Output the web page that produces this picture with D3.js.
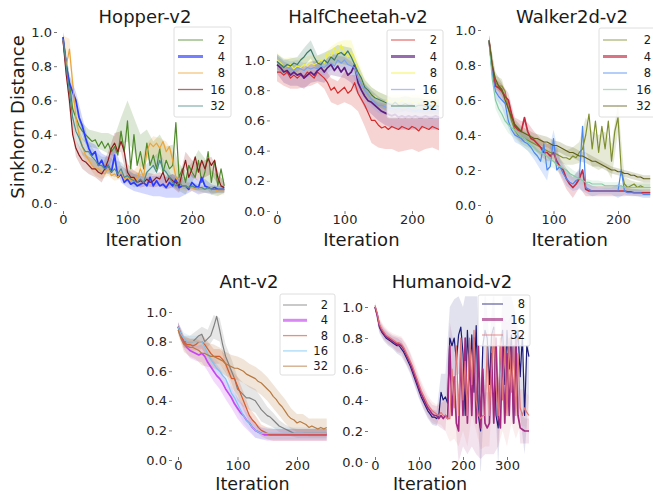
<!DOCTYPE html>
<html>
<head>
<meta charset="utf-8">
<script src="https://cdn.jsdelivr.net/npm/d3@7"></script>
<style>
  body { margin: 0; background: #fff; }
  svg { font-family: "DejaVu Sans", sans-serif; }
</style>
</head>
<body>
<svg id="chart" width="653" height="494"></svg>
<script>
// mean curves are sampled every 5 iterations, the shaded spread every 10
const STEP = 5;
const BAND_STEP = 10;

const groups = ["2", "4", "8", "16", "32"];
const humanoidGroups = ["8", "16", "32"];
const yTickValues = [0, 0.2, 0.4, 0.6, 0.8, 1.0];

// ---- Hopper-v2 ----
const hopper2 = [.97,.82,.7,.55,.5,.45,.42,.4,.38,.36, .37,.33,.36,.32,.35,.3,.33,.28,.42,.3, .48,.2,.4,.22,.3,.2,.35,.22,.28,.2, .32,.18,.25,.2,.22,.47,.15,.2,.12,.22, .18,.15,.25,.12,.18,.3,.12,.25,.1,.2, .1];
const hopper4 = [.97,.8,.7,.65,.6,.5,.45,.38,.32,.28, .3,.22,.25,.2,.22,.18,.28,.15,.17,.12, .14,.11,.12,.1,.11,.12,.1,.15,.1,.13, .1,.11,.09,.12,.1,.14,.09,.1,.1,.08, .12,.1,.09,.15,.1,.09,.08,.09,.08,.08, .08];
const hopper8 = [.95,.8,.9,.7,.5,.4,.33,.28,.25,.22, .2,.2,.18,.17,.2,.16,.17,.15,.18,.14, .15,.13,.15,.14,.2,.15,.3,.35,.33,.35, .32,.36,.3,.33,.25,.15,.12,.1,.1,.09, .09,.08,.08,.08,.08,.08,.08,.08,.07,.07, .07];
const hopper16 = [.95,.75,.6,.4,.32,.28,.25,.24,.22,.2, .2,.18,.17,.2,.25,.32,.35,.3,.36,.3, .18,.15,.15,.12,.13,.12,.14,.12,.13,.15, .14,.18,.12,.15,.13,.12,.1,.18,.25,.15, .2,.27,.18,.25,.2,.26,.22,.25,.15,.1, .09];
const hopper32 = [.96,.8,.65,.5,.42,.38,.33,.3,.3,.27, .25,.22,.22,.2,.22,.18,.2,.17,.2,.15, .16,.14,.13,.12,.14,.12,.18,.2,.22,.18, .25,.2,.18,.15,.12,.1,.12,.1,.1,.09, .1,.09,.09,.09,.08,.09,.08,.08,.08,.08, .08];
const hopper2S = [.03,.05,.05,.05,.05,.05,.05,.06,.06,.08, .12,.1,.1,.08,.08,.08,.08,.12,.08,.07, .06,.06,.08,.07,.06,.04];
const hopper4S = [.03,.05,.05,.05,.04,.04,.04,.05,.05,.05, .05,.05,.05,.05,.06,.06,.06,.07,.06,.05, .05,.04,.04,.03,.02,.02];
const hopper8S = [.03,.06,.06,.05,.04,.04,.04,.04,.04,.04, .04,.04,.04,.05,.06,.06,.06,.05,.04,.03, .02,.02,.02,.02,.02,.02];
const hopper16S = [.03,.06,.05,.05,.05,.05,.05,.05,.06,.06, .05,.04,.04,.04,.04,.04,.04,.04,.04,.05, .05,.05,.05,.05,.04,.02];
const hopper32S = [.03,.05,.05,.05,.05,.05,.05,.05,.05,.04, .04,.04,.04,.05,.05,.05,.04,.03,.03,.02, .02,.02,.02,.02,.02,.02];
const hopperColors = ["#4f8a2b", "#2a3cff", "#eba53a", "#8c1c1c", "#4e8c8c"];

// ---- HalfCheetah-v2 ----
const hc2 = [.92,.92,.9,.92,.88,.9,.88,.9,.89,.92, .9,.88,.92,.9,.88,.85,.8,.82,.78,.8, .82,.78,.8,.85,.78,.74,.7,.65,.6,.6, .57,.55,.56,.54,.56,.55,.54,.56,.55,.54, .56,.55,.53,.56,.55,.54,.56,.55,.54];
const hc4 = [.97,.95,.92,.93,.9,.92,.9,.91,.88,.9, .92,.9,.93,.95,.92,.95,.97,.93,.96,.92, .95,.9,.92,.97,.85,.8,.76,.73,.72,.7, .68,.66,.65,.64,.63,.64,.62,.63,.62,.63, .62,.63,.62,.62,.63,.62,.62,.63,.62];
const hc8 = [1.0,.98,.96,.95,.97,.94,.96,.95,.97,.96, .98,.97,.98,1.0,.98,1.05,1.02,1.08,1.04,1.1, 1.05,1.02,1.05,1.0,.93,.88,.82,.8,.77,.76, .74,.73,.72,.74,.72,.73,.72,.74,.72,.73, .72,.71,.72,.73,.72,.71,.72,.72,.71];
const hc16 = [.99,.97,.96,.95,.94,.93,.95,.94,.93,.95, .94,.95,.94,.96,.95,.97,.98,.96,1.0,.98, 1.0,.97,.96,.95,.88,.84,.8,.77,.74,.72, .7,.7,.69,.68,.68,.67,.68,.67,.67,.68, .67,.66,.67,.66,.67,.66,.66,.67,.66];
const hc32 = [.99,.97,.95,.97,.96,.98,.97,1.0,1.02,1.05, 1.07,1.02,.98,.97,1.0,.98,1.02,1.0,1.04,1.05, 1.03,1.06,1.02,.97,.92,.88,.82,.8,.77,.75, .74,.73,.72,.71,.7,.72,.7,.7,.71,.7, .7,.69,.7,.7,.69,.7,.69,.7,.69];
const hc2S = [.06,.07,.07,.07,.07,.07,.07,.07,.08,.08, .1,.1,.12,.14,.15,.15,.15,.15,.15,.15, .15,.14,.14,.14,.14];
const hc4S = [.06,.07,.07,.07,.07,.07,.07,.07,.07,.07, .07,.07,.08,.08,.08,.08,.08,.08,.08,.08, .08,.08,.08,.08,.08];
const hc8S = [.05,.05,.05,.05,.05,.05,.05,.06,.07,.08, .08,.08,.07,.06,.05,.05,.05,.05,.05,.05, .05,.05,.05,.05,.05];
const hc16S = [.05,.05,.05,.05,.05,.05,.05,.05,.05,.05, .05,.05,.05,.05,.05,.05,.05,.05,.05,.05, .05,.05,.05,.05,.05];
const hc32S = [.05,.05,.05,.05,.06,.06,.05,.05,.05,.06, .06,.06,.05,.05,.05,.05,.05,.05,.05,.05, .05,.05,.05,.05,.05];
const hcColors = ["#d62a2a", "#5e1d82", "#f2f23a", "#7aa2ee", "#3c7a66"];

// ---- Walker2d-v2 ----
const wk2 = [.94,.8,.7,.68,.68,.65,.55,.48,.43,.4, .39,.38,.37,.36,.35,.34,.33,.32,.31,.3, .3,.29,.28,.27,.27,.26,.28,.27,.3,.32, .4,.52,.32,.48,.3,.45,.32,.48,.25,.42, .5,.2,.12,.1,.11,.12,.1,.11,.1,.1, .1];
const wk4 = [.94,.78,.68,.67,.65,.62,.6,.52,.45,.43, .42,.5,.42,.38,.37,.35,.33,.3,.3,.28, .3,.25,.22,.2,.15,.12,.1,.12,.15,.2, .09,.08,.08,.08,.08,.08,.08,.08,.08,.08, .08,.08,.08,.075,.075,.07,.07,.07,.07,.07, .07];
const wk8 = [.94,.75,.65,.62,.6,.58,.48,.43,.4,.39, .38,.36,.35,.33,.3,.28,.25,.35,.2,.22, .38,.2,.22,.18,.15,.13,.12,.14,.15,.45, .1,.09,.08,.08,.08,.08,.08,.08,.08,.08, .08,.2,.08,.07,.07,.07,.07,.07,.06,.06, .06];
const wk16 = [.94,.72,.6,.55,.52,.48,.46,.44,.43,.41, .39,.38,.36,.34,.33,.31,.3,.29,.28,.26, .25,.23,.22,.21,.2,.18,.17,.16,.15,.14, .13,.13,.12,.12,.12,.12,.11,.11,.11,.11, .11,.11,.1,.1,.1,.1,.1,.1,.1,.1, .1];
const wk32 = [.94,.8,.72,.68,.66,.6,.55,.5,.46,.44, .42,.41,.4,.39,.38,.38,.37,.36,.36,.35, .34,.34,.33,.32,.31,.3,.3,.29,.28,.28, .27,.26,.25,.25,.24,.23,.22,.21,.2,.2, .19,.19,.18,.18,.17,.17,.16,.16,.15,.15, .15];
const wk2S = [.03,.04,.04,.04,.04,.04,.04,.04,.04,.04, .04,.04,.04,.05,.06,.1,.1,.1,.1,.1, .08,.04,.03,.03,.03,.03];
const wk4S = [.03,.04,.04,.04,.05,.06,.05,.05,.05,.05, .05,.05,.06,.06,.05,.04,.03,.03,.03,.03, .03,.03,.02,.02,.02,.02];
const wk8S = [.03,.04,.04,.04,.04,.04,.04,.04,.05,.06, .05,.04,.04,.04,.06,.03,.03,.02,.02,.02, .04,.02,.02,.02,.02,.02];
const wk16S = [.03,.05,.05,.05,.05,.05,.05,.05,.05,.05, .04,.04,.03,.03,.03,.02,.02,.02,.02,.02, .02,.02,.02,.02,.02,.02];
const wk32S = [.03,.04,.04,.03,.03,.03,.03,.03,.03,.03, .03,.03,.03,.03,.03,.03,.03,.02,.02,.02, .02,.02,.02,.02,.02,.02];
const walkerColors = ["#7f8f30", "#c52a40", "#4d88f0", "#85cca5", "#5f5f18"];

// ---- Ant-v2 ----
const ant2 = [.9,.85,.8,.8,.8,.8,.82,.84,.85,.8, .82,.84,.9,.97,.88,.78,.7,.65,.6,.55, .48,.46,.44,.42,.42,.41,.4,.37,.34,.32, .3,.29,.27,.25,.23,.22,.21,.2,.19,.18, .18,.18,.18,.18,.18,.18,.18,.18,.18,.18, .18];
const ant4 = [.9,.84,.79,.76,.74,.73,.72,.71,.72,.7, .66,.63,.6,.57,.55,.52,.48,.45,.42,.38, .35,.32,.3,.27,.25,.22,.2,.19,.18,.17, .17,.17,.17,.17,.17,.17,.17,.17,.17,.17, .17,.17,.17,.17,.17,.17,.17,.17,.17,.17, .17];
const ant8 = [.9,.85,.8,.78,.78,.77,.78,.8,.8,.78, .75,.72,.7,.7,.7,.68,.65,.6,.55,.55, .5,.45,.4,.35,.3,.27,.25,.22,.2,.19, .18,.17,.17,.17,.17,.17,.17,.17,.17,.17, .17,.17,.17,.17,.17,.17,.17,.17,.17,.17, .17];
const ant16 = [.9,.85,.82,.8,.8,.8,.8,.8,.8,.76, .72,.68,.65,.62,.6,.57,.55,.5,.45,.42, .38,.34,.3,.27,.25,.22,.2,.19,.18,.18, .18,.18,.18,.18,.18,.18,.18,.18,.18,.18, .18,.18,.18,.18,.18,.18,.18,.18,.18,.18, .18];
const ant32 = [.88,.82,.78,.77,.76,.76,.75,.74,.72,.72, .71,.7,.7,.69,.68,.67,.65,.64,.63,.62, .62,.61,.6,.58,.57,.56,.55,.53,.52,.5, .48,.46,.43,.41,.38,.36,.33,.3,.28,.27, .25,.26,.25,.24,.22,.23,.22,.21,.22,.21, .22];
const ant2S = [.03,.04,.04,.05,.05,.06,.08,.08,.08,.08, .08,.08,.08,.08,.08,.06,.05,.04,.03,.03, .03,.03,.03,.03,.03,.03];
const ant4S = [.03,.04,.05,.05,.06,.06,.07,.07,.07,.07, .07,.07,.06,.05,.04,.04,.04,.04,.04,.04, .04,.04,.04,.04,.04,.04];
const ant8S = [.03,.04,.04,.04,.05,.05,.05,.05,.06,.06, .06,.06,.05,.05,.04,.04,.04,.04,.04,.04, .04,.04,.04,.04,.04,.04];
const ant16S = [.03,.04,.04,.04,.04,.05,.05,.05,.05,.05, .05,.05,.05,.05,.04,.04,.04,.04,.04,.04, .04,.04,.04,.04,.04,.04];
const ant32S = [.03,.05,.06,.07,.08,.08,.08,.08,.08,.08, .08,.08,.08,.08,.08,.08,.08,.08,.08,.07, .06,.06,.06,.06,.06,.06];
const antColors = ["#808080", "#c548f0", "#d65a2a", "#7cc4f2", "#b87a40"];

// ---- Humanoid-v2 ----
const hu8 = [1.0,.95,.87,.84,.82,.8,.79,.78,.77,.76, .75,.75,.73,.71,.68,.65,.62,.58,.54,.5, .46,.42,.39,.36,.33,.31,.29,.29,.28,.3, .45,.4,.42,.38,.8,.75,.8,.65,.82,.87, .7,.3,.85,.55,.82,.45,.88,.3,.2,.75, .85,.8,.5,.82,.87,.3,.22,.75,.85,.5, .85,.6,.82,.25,.7,.85,.55,.82,.3,.75, .68];
const hu16 = [1.0,.95,.88,.85,.83,.81,.8,.79,.78,.77, .76,.76,.75,.73,.7,.67,.64,.6,.56,.52, .48,.44,.41,.38,.35,.33,.31,.3,.3,.28, .3,.28,.3,.28,.75,.3,.55,.25,.2,.7, .3,.8,.25,.7,.3,.8,.25,.75,.22,.6, .25,.22,.25,.7,.25,.8,.3,.22,.75,.25, .7,.3,.75,.25,.8,.3,.22,.21,.2,.2, .2];
const hu32 = [1.01,.96,.89,.86,.84,.82,.81,.8,.79,.78, .77,.77,.76,.74,.71,.68,.65,.62,.58,.54, .5,.46,.43,.4,.37,.35,.33,.32,.31,.3, .32,.3,.3,.28,.28,.6,.35,.75,.3,.8, .4,.65,.3,.8,.5,.85,.4,.3,.28,.3, .3,.75,.3,.6,.85,.5,.3,.8,.4,.75, .3,.8,.45,.75,.3,.7,.35,.3,.35,.32, .3];
const hu8S = [.02,.04,.04,.04,.04,.05,.05,.05,.05,.05, .05,.05,.05,.05,.05,.12,.15,.2,.25,.25, .3,.3,.3,.3,.3,.3,.28,.28,.25,.25, .25,.25,.25,.25,.25,.25];
const hu16S = [.02,.04,.04,.04,.04,.05,.05,.06,.06,.06, .06,.06,.06,.06,.06,.08,.1,.15,.2,.2, .2,.2,.2,.2,.2,.2,.2,.2,.2,.2, .2,.2,.15,.1,.08,.08];
const hu32S = [.02,.04,.04,.04,.04,.05,.05,.06,.06,.06, .06,.06,.06,.06,.06,.08,.1,.15,.2,.2, .2,.2,.2,.2,.2,.2,.2,.2,.2,.2, .2,.2,.15,.12,.12,.12];
const humanoidColors = ["#1c1c78", "#a2297f", "#e07878"];

// layout of each subplot (pixel anchors)
const panels = [
  { title: "Hopper-v2", labels: groups, colors: hopperColors,
    means: [hopper2, hopper4, hopper8, hopper16, hopper32],
    spreads: [hopper2S, hopper4S, hopper8S, hopper16S, hopper32S],
    xd: [0, 200], xr: [63, 192], yr: [203, 32], axL: 57, axB: 211, xMax: 256, yTop: 1.04,
    xTicks: [0, 100, 200], titleX: 145, titleY: 23, labelY: 246, labelSize: 18, bandAlpha: 0.2,
    leg: { x: 174, y: 27, w: 57, h: 90, row0: 40, dy: 16.5, l0: 178, l1: 203, tx: 225 } },
  { title: "HalfCheetah-v2", labels: groups, colors: hcColors,
    means: [hc2, hc4, hc8, hc16, hc32],
    spreads: [hc2S, hc4S, hc8S, hc16S, hc32S],
    xd: [0, 200], xr: [277, 412], yr: [211, 60], axL: 270, axB: 211, xMax: 245, yTop: 1.17,
    xTicks: [0, 100, 200], titleX: 358, titleY: 23, labelY: 246, labelSize: 18, bandAlpha: 0.2,
    leg: { x: 387, y: 30, w: 56, h: 88, row0: 40, dy: 16.5, l0: 391, l1: 415, tx: 437 } },
  { title: "Walker2d-v2", labels: groups, colors: walkerColors,
    means: [wk2, wk4, wk8, wk16, wk32],
    spreads: [wk2S, wk4S, wk8S, wk16S, wk32S],
    xd: [0, 200], xr: [489, 618], yr: [205, 30], axL: 481, axB: 211, xMax: 256, yTop: 1.03,
    xTicks: [0, 100, 200], titleX: 572, titleY: 23, labelY: 246, labelSize: 18, bandAlpha: 0.2,
    leg: { x: 599, y: 28, w: 60, h: 89, row0: 40, dy: 16.5, l0: 603, l1: 627, tx: 651 } },
  { title: "Ant-v2", labels: groups, colors: antColors,
    means: [ant2, ant4, ant8, ant16, ant32],
    spreads: [ant2S, ant4S, ant8S, ant16S, ant32S],
    xd: [0, 200], xr: [178, 297], yr: [460, 312], axL: 172, axB: 457, xMax: 256, yTop: 1.1,
    xTicks: [0, 100, 200], titleX: 249, titleY: 288, labelY: 489.5, labelSize: 17.5, bandAlpha: 0.2,
    leg: { x: 280, y: 294, w: 55, h: 81, row0: 305, dy: 15.3, l0: 283, l1: 307, tx: 328 } },
  { title: "Humanoid-v2", labels: humanoidGroups, colors: humanoidColors,
    means: [hu8, hu16, hu32],
    spreads: [hu8S, hu16S, hu32S],
    xd: [0, 300], xr: [375, 507], yr: [462, 307], axL: 368, axB: 457, xMax: 352, yTop: 1.07,
    xTicks: [0, 100, 200, 300], titleX: 452, titleY: 288, labelY: 489.5, labelSize: 17.5, bandAlpha: 0.13,
    leg: { x: 478, y: 295, w: 52, h: 51, row0: 304, dy: 15.5, l0: 482, l1: 503, tx: 525 } }
];

const THICK = 1; // the second group is drawn with a heavier line

const svg = d3.select("#chart");
const defs = svg.append("defs");

panels.forEach((p, pi) => {
  const x = d3.scaleLinear().domain(p.xd).range(p.xr);
  const y = d3.scaleLinear().domain([0, 1]).range(p.yr);
  const g = svg.append("g");

  defs.append("clipPath").attr("id", "clip" + pi)
    .append("rect")
    .attr("x", p.axL)
    .attr("y", y(p.yTop))
    .attr("width", x(p.xMax) - p.axL)
    .attr("height", Math.max(p.axB, y(-0.06)) - y(p.yTop));

  const plot = g.append("g").attr("clip-path", `url(#clip${pi})`);

  // shaded spread
  const ratio = BAND_STEP / STEP;
  p.means.forEach((m, si) => {
    const pts = p.spreads[si].map((s, k) => {
      const c = m[Math.min(k * ratio, m.length - 1)];
      return { it: k * BAND_STEP, lo: c - s, hi: c + s };
    });
    plot.append("path")
      .datum(pts)
      .attr("d", d3.area().x(d => x(d.it)).y0(d => y(d.lo)).y1(d => y(d.hi)))
      .attr("fill", p.colors[si])
      .attr("fill-opacity", p.bandAlpha)
      .attr("stroke", "none");
  });

  // mean lines
  p.means.forEach((m, si) => {
    plot.append("path")
      .datum(m)
      .attr("d", d3.line().x((d, k) => x(k * STEP)).y(d => y(d)))
      .attr("fill", "none")
      .attr("stroke", p.colors[si])
      .attr("stroke-width", si === THICK ? 1.7 : 1.2)
      .attr("stroke-linejoin", "round");
  });

  // axes, no spines
  const yAxis = g.append("g")
    .attr("transform", `translate(${p.axL},0)`)
    .call(d3.axisLeft(y).tickValues(yTickValues).tickFormat(d3.format(".1f")).tickSize(3).tickPadding(2));
  const xAxis = g.append("g")
    .attr("transform", `translate(0,${p.axB})`)
    .call(d3.axisBottom(x).tickValues(p.xTicks).tickFormat(d3.format("d")).tickSize(3).tickPadding(1));
  [yAxis, xAxis].forEach(a => {
    a.select(".domain").remove();
    a.attr("font-family", "DejaVu Sans, sans-serif").attr("font-size", 13);
    a.selectAll("line").attr("stroke", "#555").attr("stroke-width", 0.8);
    a.selectAll("text").attr("fill", "#262626");
  });

  g.append("text")
    .attr("x", p.titleX).attr("y", p.titleY)
    .attr("text-anchor", "middle")
    .attr("font-size", 18).attr("fill", "#1a1a1a")
    .text(p.title);

  g.append("text")
    .attr("x", (p.xr[0] + x(250)) / 2).attr("y", p.labelY)
    .attr("text-anchor", "middle")
    .attr("font-size", p.labelSize).attr("fill", "#1a1a1a")
    .text("Iteration");

  // legend
  const lg = g.append("g");
  lg.append("rect")
    .attr("x", p.leg.x).attr("y", p.leg.y)
    .attr("width", p.leg.w).attr("height", p.leg.h)
    .attr("rx", 2)
    .attr("fill", "#fff").attr("fill-opacity", 0.8)
    .attr("stroke", "#d6d6d6").attr("stroke-width", 0.8);
  p.labels.forEach((lab, si) => {
    const ry = p.leg.row0 + si * p.leg.dy;
    lg.append("line")
      .attr("x1", p.leg.l0).attr("x2", p.leg.l1)
      .attr("y1", ry).attr("y2", ry)
      .attr("stroke", p.colors[si])
      .attr("stroke-opacity", 0.65)
      .attr("stroke-width", si === THICK ? 3 : 1.3);
    lg.append("text")
      .attr("x", p.leg.tx).attr("y", ry)
      .attr("dy", "0.35em")
      .attr("text-anchor", "end")
      .attr("font-size", 11.5).attr("fill", "#1a1a1a")
      .text(lab);
  });
});

// shared y label on the first subplot
svg.append("text")
  .attr("transform", "translate(24,117) rotate(-90)")
  .attr("text-anchor", "middle")
  .attr("font-size", 18).attr("fill", "#1a1a1a")
  .text("Sinkhorn Distance");
</script>
</body>
</html>
